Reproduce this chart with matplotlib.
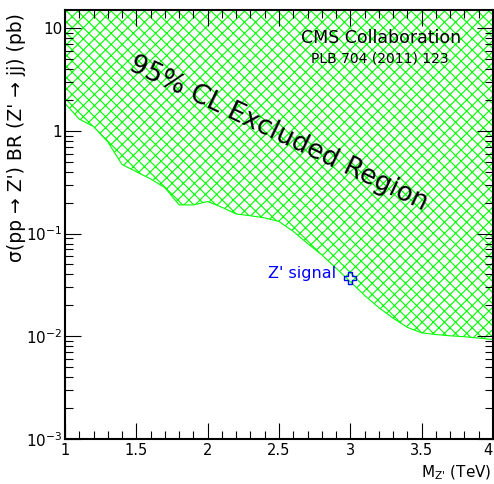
import matplotlib
matplotlib.use("Agg")
import matplotlib.pyplot as plt
from matplotlib.ticker import FixedLocator, FixedFormatter, MultipleLocator

plt.rcParams["mathtext.default"] = "regular"
plt.rcParams["hatch.linewidth"] = 0.8

GREEN = "#00ff00"; BLUE = "#0000ff"

# 95% CL upper limit on sigma x BR (pb) vs Z' mass (TeV)
mass = [1.0, 1.1, 1.2, 1.3, 1.4, 1.5, 1.6, 1.7, 1.8, 1.9, 2.0, 2.1, 2.2, 2.3, 2.4, 2.5,
        2.6, 2.7, 2.8, 2.9, 3.0, 3.1, 3.2, 3.3, 3.4, 3.5, 3.6, 3.7, 3.8, 3.9, 4.0]
limit = [1.85, 1.30, 1.10, 0.78, 0.47, 0.40, 0.34, 0.28, 0.19, 0.19, 0.205, 0.18, 0.155,
         0.149, 0.142, 0.131, 0.105, 0.080, 0.062, 0.046, 0.034, 0.025, 0.019, 0.0150,
         0.0122, 0.0108, 0.0104, 0.0101, 0.0099, 0.0096, 0.0093]
signal_mass = [3.0]
signal_xsec = [0.037]

ytick_vals = [1e-3, 1e-2, 1e-1, 1, 10]
ytick_labels = ["$10^{-3}$", "$10^{-2}$", "$10^{-1}$", "1", "10"]
xtick_vals = [1, 1.5, 2, 2.5, 3, 3.5, 4]
xtick_labels = ["1", "1.5", "2", "2.5", "3", "3.5", "4"]

fig = plt.figure(figsize=(4.94, 4.84), dpi=100)
ax = fig.add_axes([65/494, 1-439/484, 428/494, 429/484])
ax.set_yscale("log")
ax.set_xlim(1, 4); ax.set_ylim(1e-3, 15)

ax.fill_between(mass, limit, 100, facecolor="none", edgecolor=GREEN, hatch="xxx", lw=0)
ax.plot(mass, limit, color=GREEN, lw=0.8)
ax.plot(signal_mass, signal_xsec, ls="none", marker="P", ms=8, mfc="none", mec=BLUE, mew=1.0)
ax.text(2.90, 0.041, "Z' signal", color=BLUE, fontsize=11.5, ha="right", va="center")

ax.text(2.50, 0.93, "95% CL Excluded Region", fontsize=19, rotation=-25.5,
        rotation_mode="anchor", ha="center", va="center")
ax.text(381/494, 1-38/484, "CMS Collaboration", transform=fig.transFigure, fontsize=12.5,
        ha="center", va="center")
ax.text(380/494, 1-59/484, "PLB 704 (2011) 123", transform=fig.transFigure, fontsize=10,
        ha="center", va="center")

ax.yaxis.set_major_locator(FixedLocator(ytick_vals))
ax.yaxis.set_major_formatter(FixedFormatter(ytick_labels))
ax.xaxis.set_major_locator(FixedLocator(xtick_vals))
ax.xaxis.set_major_formatter(FixedFormatter(xtick_labels))
ax.xaxis.set_minor_locator(MultipleLocator(0.1))
ax.tick_params(which="both", direction="in", top=True, right=True, width=0.8, labelsize=10.5)
ax.tick_params(which="major", length=11.5, pad=3)
ax.tick_params(which="minor", length=5.8)
ax.tick_params(axis="y", labelsize=11, pad=2)
ax.get_xticklabels()[-1].set_horizontalalignment("right")
for s in ax.spines.values():
    s.set_linewidth(1.5)

fig.text(17/494, 1-13/484, "σ(pp → Z') BR (Z' → jj) (pb)", rotation=90, fontsize=13.5,
         ha="center", va="top")
fig.text(492/494, 1-473/484, r"$M_{Z\text{'}}$ (TeV)", fontsize=11, ha="right", va="center")

fig.savefig("out.png", dpi=100)
